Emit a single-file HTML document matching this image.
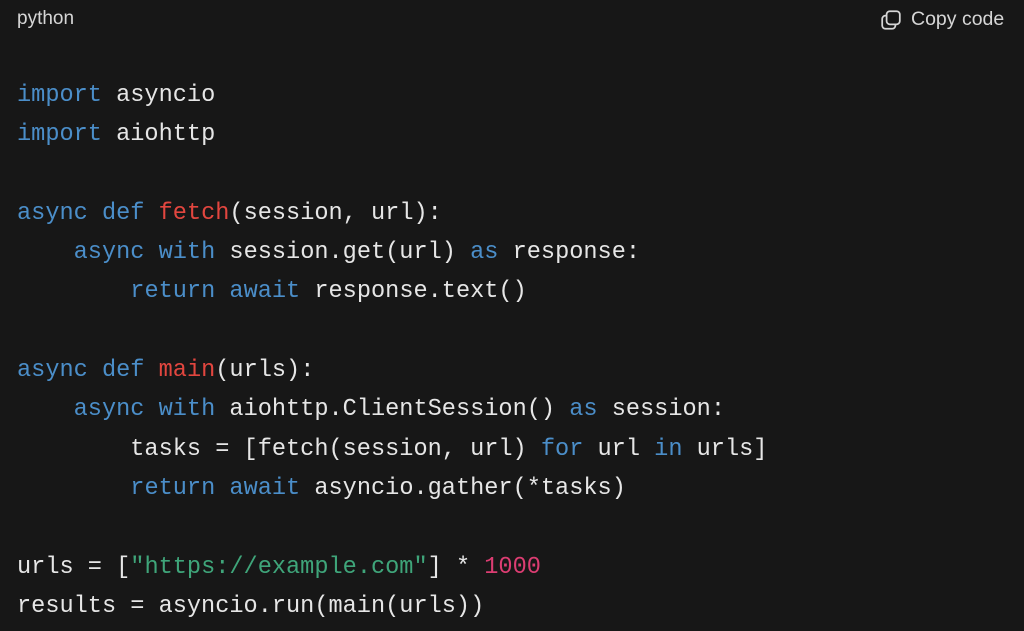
<!DOCTYPE html>
<html><head><meta charset="utf-8"><style>
html,body{margin:0;padding:0;background:#171717;width:1024px;height:631px;overflow:hidden}
.hdr{position:absolute;left:17px;top:8px;font:19px "Liberation Sans",sans-serif;color:#d6d6d6}
.copy{position:absolute;left:880px;top:8px;font:19.5px "Liberation Sans",sans-serif;color:#d6d6d6;white-space:nowrap}
.copy svg{position:absolute;left:0;top:1px}
.copy span{margin-left:31px}
pre{position:absolute;left:17px;top:76px;margin:0;font:23.6px/39.3px "Liberation Mono",monospace;color:#e6e6e6}
.k{color:#4b8ec9}.f{color:#e2463f}.s{color:#3fa57a}.n{color:#dc3d72}
</style></head><body>
<div class="hdr">python</div>
<div class="copy"><svg width="22" height="22" viewBox="0 0 20 20" fill="none" stroke="#d6d6d6" stroke-width="1.6"><rect x="6" y="2" width="12" height="12" rx="3"/><path d="M6 6H5a3 3 0 0 0-3 3v6a3 3 0 0 0 3 3h6a3 3 0 0 0 3-3v-1"/></svg><span>Copy code</span></div>
<pre><span class="k">import</span> asyncio
<span class="k">import</span> aiohttp

<span class="k">async</span> <span class="k">def</span> <span class="f">fetch</span>(session, url):
    <span class="k">async</span> <span class="k">with</span> session.get(url) <span class="k">as</span> response:
        <span class="k">return</span> <span class="k">await</span> response.text()

<span class="k">async</span> <span class="k">def</span> <span class="f">main</span>(urls):
    <span class="k">async</span> <span class="k">with</span> aiohttp.ClientSession() <span class="k">as</span> session:
        tasks = [fetch(session, url) <span class="k">for</span> url <span class="k">in</span> urls]
        <span class="k">return</span> <span class="k">await</span> asyncio.gather(*tasks)

urls = [<span class="s">"https://example.com"</span>] * <span class="n">1000</span>
results = asyncio.run(main(urls))</pre>
</body></html>
